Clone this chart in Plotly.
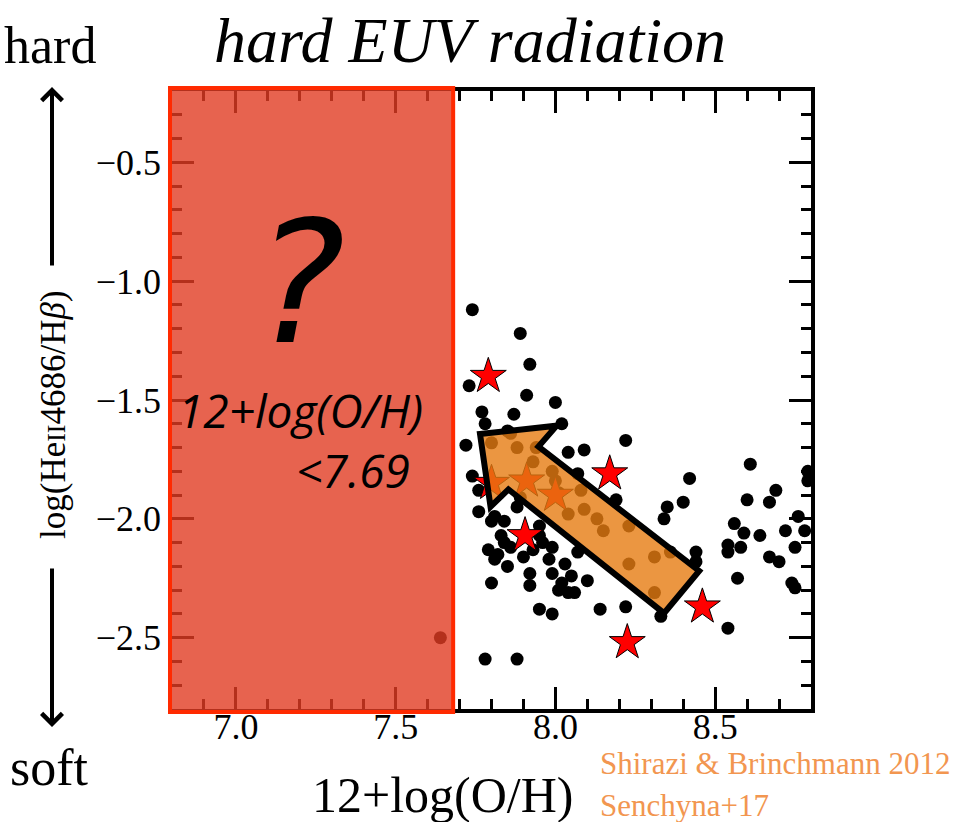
import plotly.graph_objects as go

# ---------------- data ----------------
# black points: 12+log(O/H), log(HeII4686/Hbeta)
oh_pts = [7.74, 7.89, 7.92, 7.73, 7.91, 8.00, 7.77, 7.87, 7.78, 8.02, 7.72, 8.22, 8.09, 8.04,
          7.74, 7.76, 8.42, 8.61, 8.60, 8.69, 8.67, 8.79, 8.79, 8.40, 8.35, 8.34, 8.19, 7.76,
          7.80, 7.84, 7.88, 8.56, 8.59, 8.64, 8.72, 8.76, 8.78, 8.75, 8.54, 8.58, 8.54, 8.67,
          8.70, 8.57, 8.74, 8.75, 8.44, 8.44, 8.54, 8.33, 8.22, 8.14, 7.95, 7.99, 7.78, 7.88,
          7.80, 7.92, 7.92, 7.99, 8.03, 8.05, 8.01, 8.04, 8.06, 8.10, 7.79, 7.81, 7.84, 7.83,
          7.96, 7.99, 7.98, 8.07, 7.95, 7.81, 7.89, 8.07, 7.85, 7.95, 7.80, 7.88, 7.94, 7.93,
          7.99, 8.00, 8.08, 8.09, 8.13, 8.15, 8.23, 8.31, 8.36, 8.31, 8.23, 8.04, 8.01, 7.86,
          7.64, 7.82, 7.85, 7.86, 7.90, 8.02, 7.93]
he_pts = [-1.12, -1.22, -1.35, -1.44, -1.48, -1.51, -1.55, -1.56, -1.60, -1.60, -1.69, -1.67, -1.71, -1.72,
          -1.82, -1.88, -1.83, -1.77, -1.92, -1.88, -1.93, -1.80, -1.84, -1.93, -1.95, -2.00, -1.92, -1.97,
          -2.01, -2.01, -1.95, -2.02, -2.06, -2.07, -2.05, -1.99, -2.05, -2.12, -2.11, -2.12, -2.14, -2.16,
          -2.18, -2.25, -2.27, -2.29, -2.14, -2.18, -2.46, -2.41, -2.37, -2.38, -2.38, -2.40, -2.59, -2.59,
          -2.27, -2.23, -2.28, -2.23, -2.19, -2.24, -2.30, -2.31, -2.31, -2.26, -2.13, -2.17, -2.10, -2.07,
          -2.10, -2.12, -2.17, -2.14, -2.07, -1.99, -1.91, -1.81, -1.63, -2.03, -1.68, -1.70, -1.70, -1.76,
          -1.80, -1.84, -1.88, -1.96, -2.00, -2.05, -2.03, -2.16, -2.14, -2.31, -2.19, -1.98, -1.89, -1.64,
          -2.50, -2.15, -2.20, -2.12, -2.16, -2.27, -2.13]

# red stars (Senchyna+17)
oh_stars = [7.79, 8.17, 7.905, 8.46, 8.225, 7.91, 8.00, 7.80]
he_stars = [-1.40, -1.81, -2.07, -2.37, -2.52, -1.84, -1.90, -1.85]

x_ticks = [7.0, 7.5, 8.0, 8.5]
y_ticks = [-2.5, -2.0, -1.5, -1.0, -0.5]
x_range = [6.8, 8.8]
y_range = [-2.8, -0.2]

oh_limit = 7.68  # metallicity limit shown by red box

# annotation arrow outline (data coords), tip at upper left
arrow_x = [7.764, 8.004, 7.947, 8.450, 8.340, 7.853, 7.797]
arrow_y = [-1.643, -1.608, -1.696, -2.219, -2.397, -1.876, -1.949]

# ---------------- figure ----------------
W, H = 961, 822
ML, MR, MT, MB = 172, 150, 91, 113
PW, PH = W - ML - MR, H - MT - MB


def px(xp):
    return (xp - ML) / PW


def py(yp):
    return (H - MB - yp) / PH


fig = go.Figure()
fig.add_trace(go.Scatter(
    x=oh_pts, y=he_pts, mode="markers",
    marker=dict(color="black", size=13, line=dict(width=0)),
    showlegend=False, hoverinfo="skip"))
fig.add_trace(go.Scatter(
    x=oh_stars, y=he_stars, mode="markers",
    marker=dict(symbol="star", color="#ff0000", size=27, line=dict(color="black", width=1)),
    showlegend=False, hoverinfo="skip"))

serif = "Liberation Serif, serif"
sans = "DejaVu Sans, sans-serif"
sans2 = "Open Sans, sans-serif"

axis_common = dict(
    showline=True, linecolor="black", linewidth=3.5, mirror="ticks",
    ticks="inside", ticklen=22, tickwidth=3, tickcolor="black",
    showgrid=False, zeroline=False,
    tickfont=dict(family=serif, size=36, color="black"),
    tickformat=".1f",
    minor=dict(ticks="inside", ticklen=10, tickwidth=2.5, tickcolor="black", dtick=0.1, showgrid=False),
)
fig.update_xaxes(range=x_range, tickvals=x_ticks, ticklabelstandoff=-17, **axis_common)
fig.update_yaxes(range=y_range, tickvals=y_ticks, **axis_common)

# arrow shape
path = "M " + " L ".join(f"{a},{b}" for a, b in zip(arrow_x, arrow_y)) + " Z"
fig.add_shape(type="path", path=path, xref="x", yref="y", layer="above",
              fillcolor="rgba(230,124,18,0.8)", line=dict(color="black", width=6))

# red box (metallicity < limit), in paper coords so its border is not clipped
box_x1 = (oh_limit - x_range[0]) / (x_range[1] - x_range[0])
fig.add_shape(type="rect", xref="paper", yref="paper", layer="above",
              x0=px(170), x1=box_x1, y0=py(712), y1=py(88),
              fillcolor="rgba(225,60,35,0.8)", line=dict(color="#ff2a00", width=4))

ann = []
# title
ann.append(dict(text="<i>hard EUV radiation</i>", x=px(470), y=py(40), xref="paper", yref="paper",
                showarrow=False, font=dict(family=serif, size=64, color="black"),
                xanchor="center", yanchor="middle"))
ann.append(dict(text="hard", x=px(50), y=py(45), xref="paper", yref="paper", showarrow=False,
                font=dict(family=serif, size=52, color="black"), xanchor="center", yanchor="middle"))
ann.append(dict(text="soft", x=px(49), y=py(767), xref="paper", yref="paper", showarrow=False,
                font=dict(family=serif, size=52, color="black"), xanchor="center", yanchor="middle"))
# vertical arrows
ann.append(dict(text="", x=px(52), y=py(87), xref="paper", yref="paper", showarrow=True,
                ax=0, ay=180, arrowhead=4, arrowsize=1.0, arrowwidth=4, arrowcolor="black"))
ann.append(dict(text="", x=px(52), y=py(727), xref="paper", yref="paper", showarrow=True,
                ax=0, ay=-160, arrowhead=4, arrowsize=1.0, arrowwidth=4, arrowcolor="black"))
# y-axis title
ann.append(dict(text="log(He<span style='font-size:26px'>II</span>4686/H<i>β</i>)",
                x=px(53), y=py(415), xref="paper", yref="paper", showarrow=False, textangle=-90,
                font=dict(family=serif, size=35, color="black"), xanchor="center", yanchor="middle"))
# x-axis title
ann.append(dict(text="12+log(O/H)", x=px(443), y=py(795), xref="paper", yref="paper", showarrow=False,
                font=dict(family=serif, size=50, color="black"), xanchor="center", yanchor="middle"))
# references
ann.append(dict(text="Shirazi &amp; Brinchmann 2012", x=px(598), y=py(763), xref="paper", yref="paper",
                showarrow=False, font=dict(family=serif, size=31, color="#f29650"),
                xanchor="left", yanchor="middle"))
ann.append(dict(text="Senchyna+17", x=px(598), y=py(805), xref="paper", yref="paper",
                showarrow=False, font=dict(family=serif, size=31, color="#f29650"),
                xanchor="left", yanchor="middle"))
# box texts
ann.append(dict(text="<i>?</i>", x=px(300), y=py(283), xref="paper", yref="paper", showarrow=False,
                font=dict(family=sans, size=170, color="black"), xanchor="center", yanchor="middle"))
ann.append(dict(text="<i>12+log(O/H)</i>", x=px(176), y=py(410), xref="paper", yref="paper",
                showarrow=False, font=dict(family=sans2, size=46, color="black"),
                xanchor="left", yanchor="middle"))
ann.append(dict(text="<i>&lt;7.69</i>", x=px(294), y=py(470), xref="paper", yref="paper",
                showarrow=False, font=dict(family=sans2, size=46, color="black"),
                xanchor="left", yanchor="middle"))

fig.update_layout(
    width=W, height=H,
    margin=dict(l=ML, r=MR, t=MT, b=MB),
    paper_bgcolor="white", plot_bgcolor="white",
    annotations=ann,
    showlegend=False,
)

fig.write_html("out.html", config={"displayModeBar": False},
               post_script="document.body.style.margin='0';")
